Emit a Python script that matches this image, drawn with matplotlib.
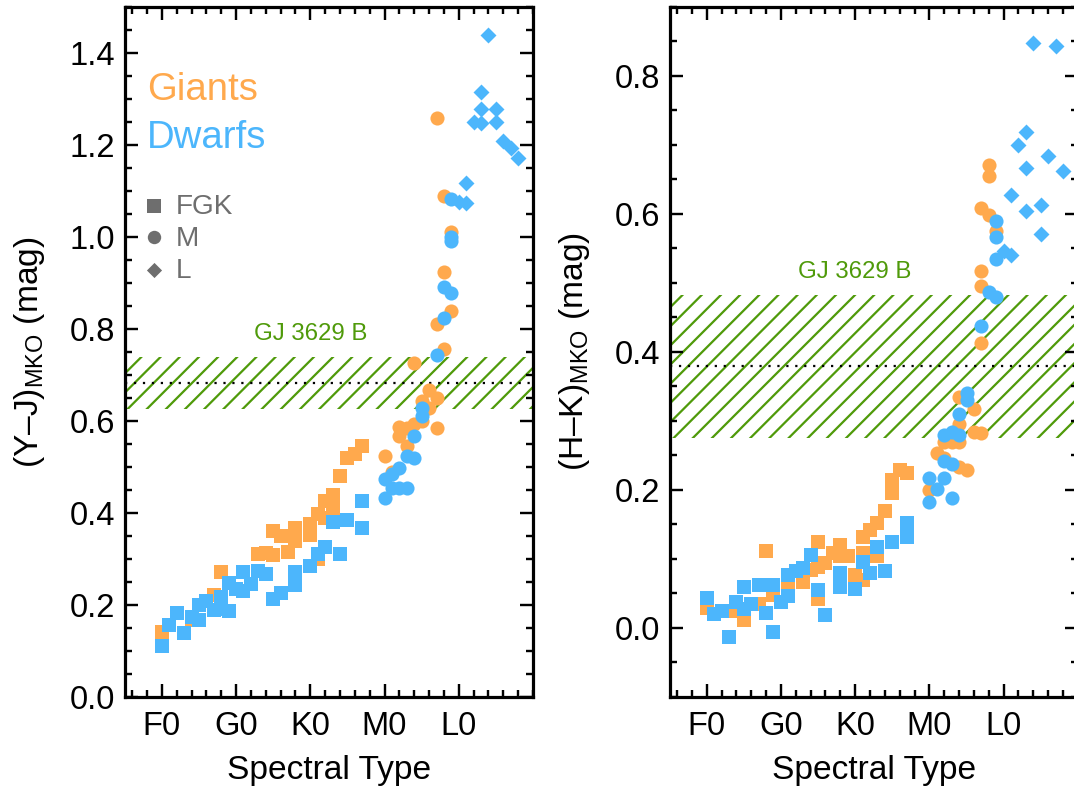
import matplotlib
matplotlib.use("Agg")
import matplotlib.pyplot as plt
from matplotlib.ticker import MultipleLocator, FormatStrFormatter, FixedLocator, FixedFormatter

plt.rcParams['font.family'] = ['Liberation Sans', 'DejaVu Sans']
plt.rcParams['mathtext.fontset'] = 'custom'
plt.rcParams['mathtext.rm'] = 'Liberation Sans'
plt.rcParams['mathtext.it'] = 'Liberation Sans'
plt.rcParams['hatch.linewidth'] = 1.4

ORANGE = '#ffa94d'
BLUE = '#4cb6fc'
GREEN = '#4f9a0a'
GREY = '#6e6e6e'
plt.rcParams['hatch.color'] = GREEN

# spectral type code: F0=10, G0=20, K0=30, M0=40, L0=50
spt_ticks = [10, 20, 30, 40, 50]
spt_labels = ['F0', 'G0', 'K0', 'M0', 'L0']

# ---- (Y-J) panel ----
yj_giant_fgk_spt = [10, 14, 17, 18, 25, 26, 23, 24, 25, 27, 28, 28, 30, 30, 31, 32, 33, 33, 32, 31, 34, 35, 36, 37]
yj_giant_fgk = [0.141, 0.167, 0.222, 0.272, 0.360, 0.349, 0.311, 0.314, 0.309, 0.316, 0.368, 0.338,
                0.375, 0.353, 0.397, 0.425, 0.440, 0.410, 0.388, 0.300, 0.480, 0.519, 0.528, 0.545]
yj_dwarf_fgk_spt = [10, 11, 12, 13, 14, 15, 15, 16, 17, 18, 18, 19, 19, 20, 21, 21, 22, 23, 24, 25, 26,
                    28, 28, 30, 31, 32, 33, 34, 35, 37, 37]
yj_dwarf_fgk = [0.110, 0.156, 0.183, 0.139, 0.174, 0.167, 0.200, 0.209, 0.189, 0.217, 0.191, 0.248, 0.187,
                0.235, 0.272, 0.231, 0.246, 0.274, 0.268, 0.213, 0.226, 0.272, 0.243, 0.285, 0.311, 0.325,
                0.381, 0.311, 0.384, 0.425, 0.368]
yj_giant_m_spt = [49, 47, 48, 44, 46, 47, 45, 46, 42, 42, 44, 45, 43, 47, 43, 40, 41, 47, 48, 49, 48]
yj_giant_m = [0.840, 0.810, 0.757, 0.725, 0.668, 0.650, 0.643, 0.628, 0.587, 0.568, 0.594, 0.599, 0.585,
              0.585, 0.546, 0.524, 0.490, 1.258, 1.090, 1.011, 0.923]
yj_dwarf_m_spt = [48, 47, 45, 45, 44, 43, 44, 42, 41, 40, 42, 43, 41, 40, 49, 49, 49, 48, 49]
yj_dwarf_m = [0.823, 0.744, 0.628, 0.611, 0.567, 0.523, 0.519, 0.497, 0.484, 0.473, 0.454, 0.454, 0.454,
              0.432, 1.083, 0.999, 0.992, 0.891, 0.878]
yj_dwarf_l_spt = [50, 51, 51, 54, 53, 53, 55, 52, 53, 55, 56, 57, 58]
yj_dwarf_l = [1.076, 1.074, 1.118, 1.439, 1.316, 1.279, 1.279, 1.249, 1.247, 1.251, 1.208, 1.194, 1.171]
yj_gj3629b, yj_gj3629b_err = 0.683, 0.057

# ---- (H-K) panel ----
hk_giant_fgk_spt = [10, 14, 15, 18, 17, 19, 21, 23, 25, 25, 27, 28, 28, 29, 26, 25, 24, 30, 31, 31, 31,
                    32, 33, 33, 34, 35, 35, 36, 37]
hk_giant_fgk = [0.029, 0.025, 0.012, 0.111, 0.035, 0.048, 0.067, 0.067, 0.124, 0.042, 0.109, 0.120, 0.104,
                0.104, 0.094, 0.089, 0.084, 0.077, 0.132, 0.109, 0.070, 0.142, 0.152, 0.104, 0.170, 0.214,
                0.195, 0.229, 0.225]
hk_dwarf_fgk_spt = [10, 11, 12, 13, 14, 15, 15, 16, 17, 18, 19, 19, 20, 21, 21, 22, 23, 24, 25, 26, 28,
                    28, 30, 31, 32, 33, 34, 35, 37, 37]
hk_dwarf_fgk = [0.043, 0.020, 0.025, -0.013, 0.038, 0.059, 0.028, 0.035, 0.062, 0.022, 0.062, -0.006,
                0.038, 0.046, 0.077, 0.082, 0.087, 0.106, 0.055, 0.019, 0.080, 0.060, 0.057, 0.095, 0.080,
                0.118, 0.083, 0.125, 0.152, 0.132]
hk_giant_m_spt = [48, 48, 47, 48, 49, 47, 47, 47, 44, 46, 44, 46, 47, 42, 43, 44, 41, 42, 44, 45, 40]
hk_giant_m = [0.671, 0.655, 0.608, 0.599, 0.576, 0.518, 0.496, 0.413, 0.335, 0.318, 0.296, 0.284, 0.282,
              0.270, 0.270, 0.270, 0.253, 0.246, 0.234, 0.229, 0.200]
hk_dwarf_m_spt = [49, 49, 49, 48, 49, 47, 45, 45, 44, 42, 43, 44, 42, 43, 40, 42, 41, 40, 43]
hk_dwarf_m = [0.590, 0.567, 0.535, 0.487, 0.479, 0.437, 0.340, 0.331, 0.310, 0.279, 0.284, 0.279, 0.242,
              0.237, 0.217, 0.217, 0.202, 0.183, 0.188]
hk_dwarf_l_spt = [54, 57, 53, 52, 56, 53, 58, 51, 55, 53, 55, 50, 51]
hk_dwarf_l = [0.848, 0.843, 0.719, 0.700, 0.684, 0.667, 0.662, 0.628, 0.613, 0.604, 0.571, 0.547, 0.541]
hk_gj3629b, hk_gj3629b_err = 0.379, 0.103

MS_SQ = 78
MS_CIRC = 78
MS_DIAM = 50

fig = plt.figure(figsize=(1074 / 115, 794 / 115), dpi=115)
ax1 = fig.add_axes([0.1161, 0.1222, 0.3802, 0.869])
ax2 = fig.add_axes([0.6234, 0.1222, 0.3802, 0.869])


def draw_panel(ax, gfs, gf, dfs, df, gms, gm, dms, dm, dls, dl, obj, obj_err, ylim, ylabel):
    ax.axhspan(obj - obj_err, obj + obj_err, facecolor='none', edgecolor=GREEN, hatch='//', linewidth=0, zorder=1)
    ax.axhline(obj, color='black', lw=1.4, ls=(0, (1, 3)), zorder=1.5)
    ax.text(30, obj + obj_err + 0.0247 * (ylim[1] - ylim[0]), 'GJ 3629 B', color=GREEN,
            fontsize=15, ha='center', va='baseline', zorder=2)
    ax.scatter(gfs, gf, s=MS_SQ, marker='s', color=ORANGE, linewidths=0, zorder=3)
    ax.scatter(dfs, df, s=MS_SQ, marker='s', color=BLUE, linewidths=0, zorder=4)
    ax.scatter(gms, gm, s=MS_CIRC, marker='o', color=ORANGE, linewidths=0, zorder=5)
    ax.scatter(dms, dm, s=MS_CIRC, marker='o', color=BLUE, linewidths=0, zorder=6)
    ax.scatter(dls, dl, s=MS_DIAM, marker='D', color=BLUE, linewidths=0, zorder=7)

    ax.set_xlim(5, 60)
    ax.set_ylim(*ylim)
    ax.xaxis.set_major_locator(FixedLocator(spt_ticks))
    ax.xaxis.set_major_formatter(FixedFormatter(spt_labels))
    ax.xaxis.set_minor_locator(MultipleLocator(2))
    ax.yaxis.set_major_locator(MultipleLocator(0.2))
    ax.yaxis.set_minor_locator(MultipleLocator(0.05))
    ax.yaxis.set_major_formatter(FormatStrFormatter('%.1f'))
    ax.tick_params(which='both', direction='in', top=True, right=True, width=1.5, labelsize=20.5)
    ax.tick_params(which='major', length=8.3)
    ax.tick_params(which='minor', length=4.4)
    ax.tick_params(axis='x', which='major', pad=9)
    ax.tick_params(axis='y', which='major', pad=6)
    for sp in ax.spines.values():
        sp.set_linewidth(2.0)
    ax.set_xlabel('Spectral Type', fontsize=21, labelpad=8)
    ax.set_ylabel(ylabel, fontsize=21)
    ax.yaxis.set_label_coords(-0.19, 0.5)


draw_panel(ax1, yj_giant_fgk_spt, yj_giant_fgk, yj_dwarf_fgk_spt, yj_dwarf_fgk,
           yj_giant_m_spt, yj_giant_m, yj_dwarf_m_spt, yj_dwarf_m, yj_dwarf_l_spt, yj_dwarf_l,
           yj_gj3629b, yj_gj3629b_err, (0, 1.5), '(Y\u2013J)$_\\mathrm{MKO}$ (mag)')
draw_panel(ax2, hk_giant_fgk_spt, hk_giant_fgk, hk_dwarf_fgk_spt, hk_dwarf_fgk,
           hk_giant_m_spt, hk_giant_m, hk_dwarf_m_spt, hk_dwarf_m, hk_dwarf_l_spt, hk_dwarf_l,
           hk_gj3629b, hk_gj3629b_err, (-0.1, 0.9), '(H\u2013K)$_\\mathrm{MKO}$ (mag)')

# legend text in the left panel
ax1.text(0.054, 0.865, 'Giants', color=ORANGE, fontsize=24, transform=ax1.transAxes, va='baseline')
ax1.text(0.054, 0.7957, 'Dwarfs', color=BLUE, fontsize=24, transform=ax1.transAxes, va='baseline')
legend_markers = ['s', 'o', 'D']
legend_names = ['FGK', 'M', 'L']
legend_y = [0.712, 0.666, 0.619]
legend_sizes = [MS_SQ * 0.9, MS_CIRC * 0.9, MS_DIAM * 0.9]
for mk, name, yy, sz in zip(legend_markers, legend_names, legend_y, legend_sizes):
    ax1.scatter([0.0718], [yy], s=sz, marker=mk, color=GREY, linewidths=0, transform=ax1.transAxes, zorder=8)
    ax1.text(0.125, yy - 0.012, name, color=GREY, fontsize=17.5, transform=ax1.transAxes, va='baseline')

fig.savefig('out.png', dpi=115)
